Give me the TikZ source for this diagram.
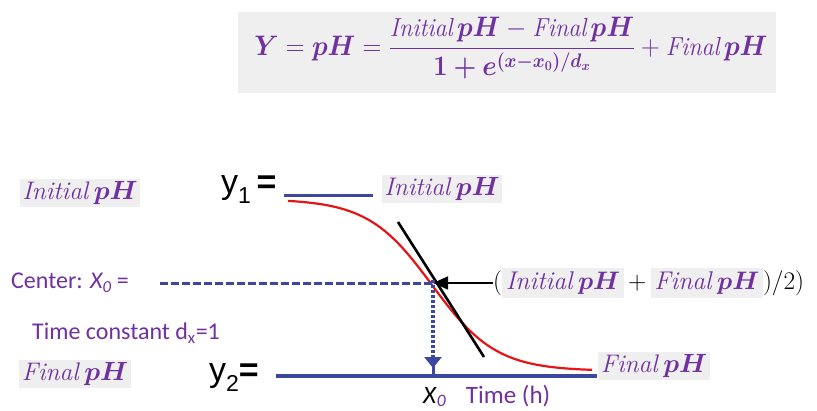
\documentclass[tikz,border=0pt]{standalone}
\usepackage{amsmath,bm,graphicx}
\usepackage{fontspec}
\newfontfamily\calfont{Carlito}
\newfontfamily\arialfont{Liberation Sans}
\usetikzlibrary{arrows.meta}
\definecolor{pur}{RGB}{112,48,160}
\definecolor{lblue}{RGB}{60,72,160}
\definecolor{bgg}{RGB}{239,239,239}
\definecolor{cred}{RGB}{230,20,20}
\newcommand{\ipH}{\textit{Initial}\,$\bm{pH}$}
\newcommand{\fpH}{\textit{Final}\,$\bm{pH}$}
\tikzset{
  phlabel/.style={fill=bgg, inner sep=2.5pt, text=pur, font=\fontsize{20}{24}\selectfont},
  calib/.style={text=pur, font=\calfont\fontsize{24}{28}\selectfont, inner sep=0pt},
  ylab/.style={font=\arialfont\fontsize{34}{36}\selectfont, inner sep=0pt},
  bluelevel/.style={lblue, line width=3pt},
}
\begin{document}
\begin{tikzpicture}[x=1pt,y=-1pt]
\path[use as bounding box] (0,0) rectangle (817,410);
% formula
\node[fill=bgg, minimum width=538pt, minimum height=81pt, anchor=north west, inner sep=0pt] (fbox) at (238,12) {};
\node[text=pur, font=\fontsize{23}{28}\selectfont, inner sep=0pt] (formula) at (511,48)
  {\scalebox{1}[1.08]{\resizebox{513pt}{!}{$\bm{Y}=\bm{pH}=\dfrac{\mathit{Initial}\,\bm{pH}-\mathit{Final}\,\bm{pH}}{\bm{1+e^{(x-x_0)/d_x}}}+\mathit{Final}\,\bm{pH}$}}};
% left labels
\node[phlabel] (ileft) at (80,193) {\scalebox{1.27}{\ipH}};
\node[phlabel] (fleft) at (75,374) {\scalebox{1.27}{\fpH}};
\node[ylab, anchor=west] (y1) at (221,190) {y\raisebox{-10pt}{\fontsize{23}{24}\selectfont 1}\,\textbf{=}};
\node[ylab, anchor=west] (y2) at (209,378) {y\raisebox{-10pt}{\fontsize{23}{24}\selectfont 2}\textbf{=}};
\node[calib, anchor=west] (center) at (11,283) {Center: \textit{X\textsubscript{0}} =};
\node[calib, anchor=west] (tconst) at (32,333) {Time constant d\textsubscript{x}=1};
% right labels
\node[phlabel] (iright) at (442,189) {\scalebox{1.27}{\ipH}};
\node[phlabel] (fright) at (654,366) {\scalebox{1.27}{\fpH}};
\node[anchor=west, inner sep=0pt, font=\fontsize{21}{24}\selectfont] (half) at (493,283)
  {\scalebox{1.22}{$($\colorbox{bgg}{\color{pur}\ipH}\,$+$\,\colorbox{bgg}{\color{pur}\fpH}$)/2)$}};
\node[anchor=west, inner sep=0pt, font=\calfont\fontsize{25}{28}\selectfont] (x0lab) at (423,396)
  {\textit{X}\textsubscript{\textcolor{pur}{\textit{0}}}\;\; \textcolor{pur}{Time (h)}};
% coordinates
\coordinate (y1a) at (284,195);
\coordinate (y1b) at (373,195);
\coordinate (axa) at (276,376);
\coordinate (axb) at (597,376);
\coordinate (c) at (433,283);
\coordinate (x0) at (433,376);
\coordinate (dashstart) at (160,283);
\coordinate (ta) at (398,222);
\coordinate (tb) at (484,357);
% levels
\draw[bluelevel] (y1a) -- (y1b);
\draw[lblue, line width=4pt] (axa) -- (axb);
% sigmoid
\draw[cred, line width=2.2pt] plot[domain=288:592, samples=120, smooth] (\x, {199+172/(1+exp(-(\x-432)/32))});
% tangent
\draw[black, line width=2.6pt] (ta) -- (tb);
% dashed center line
\draw[lblue, line width=3pt, dash pattern=on 8pt off 3pt] (dashstart) -- (c);
% arrow from half label
\draw[black, line width=1.6pt, -{Triangle[length=15pt, width=13pt]}] (half.west) -- (c);
% dotted drop
\draw[lblue, line width=3.5pt, dash pattern=on 3pt off 2pt] ([yshift=3pt]c) -- (433,357);
\draw[lblue, line width=3pt, -{Triangle[length=11pt, width=17pt]}] (433,356) -- (433,368);
\draw[lblue, line width=3pt] (433,366) -- (x0);
\end{tikzpicture}
\end{document}
